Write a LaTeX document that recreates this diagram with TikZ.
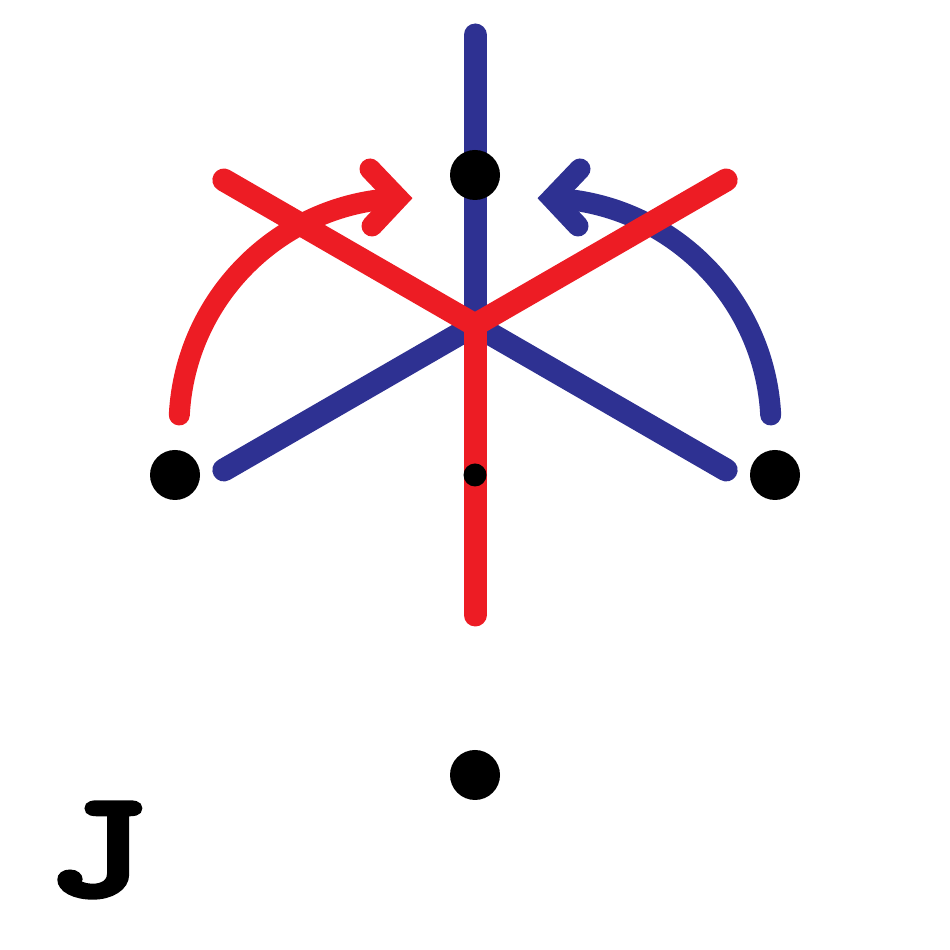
\documentclass[tikz,border=0pt]{standalone}
\usepackage{fontspec}
\newfontfamily\jfont[FakeBold=5]{Latin Modern Mono}
\definecolor{symblue}{HTML}{2E3192}
\definecolor{symred}{HTML}{ED1C24}
\begin{document}
\begin{tikzpicture}[
    arm/.style={line width=0.23cm, line cap=round},
    turn/.style={line width=0.21cm, line cap=round},
    barb/.style={line width=0.21cm, line cap=round, line join=miter},
    dot/.style={circle, fill=black, inner sep=0pt, minimum size=0.5cm},
    smalldot/.style={circle, fill=black, inner sep=0pt, minimum size=0.23cm}]
  \useasboundingbox (0,0) rectangle (9.5,9.5);
  \coordinate (c) at (4.75,6.25);
  % blue Y and its turn arrow
  \foreach \a in {90,210,330}
    \draw[arm, symblue] (c) -- ++(\a:2.9);
  \coordinate (bs) at (7.707,5.35);
  \draw[turn, symblue] (bs) arc[start angle=3, end angle=87, radius=2.29];
  \draw[barb, symblue] (5.80,7.81) -- (5.52,7.517) -- (5.78,7.24);
  % red Y (rotated copy) and its turn arrow
  \foreach \a in {30,150,270}
    \draw[arm, symred] (c) -- ++(\a:2.9);
  \coordinate (rs) at (1.793,5.35);
  \draw[turn, symred] (rs) arc[start angle=177, end angle=93, radius=2.29];
  \draw[barb, symred] (3.70,7.81) -- (3.98,7.517) -- (3.72,7.24);
  % points
  \node[dot] (top) at (4.75,7.75) {};
  \node[dot] (left) at (1.75,4.75) {};
  \node[dot] (right) at (7.75,4.75) {};
  \node[dot] (bottom) at (4.75,1.75) {};
  \node[smalldot] (mid) at (4.75,4.75) {};
  \node[inner sep=0pt, font=\jfont\fontsize{42}{42}\selectfont] (lbl) at (0.97,1.0) {\scalebox{1.3}[1]{J}};
\end{tikzpicture}
\end{document}
